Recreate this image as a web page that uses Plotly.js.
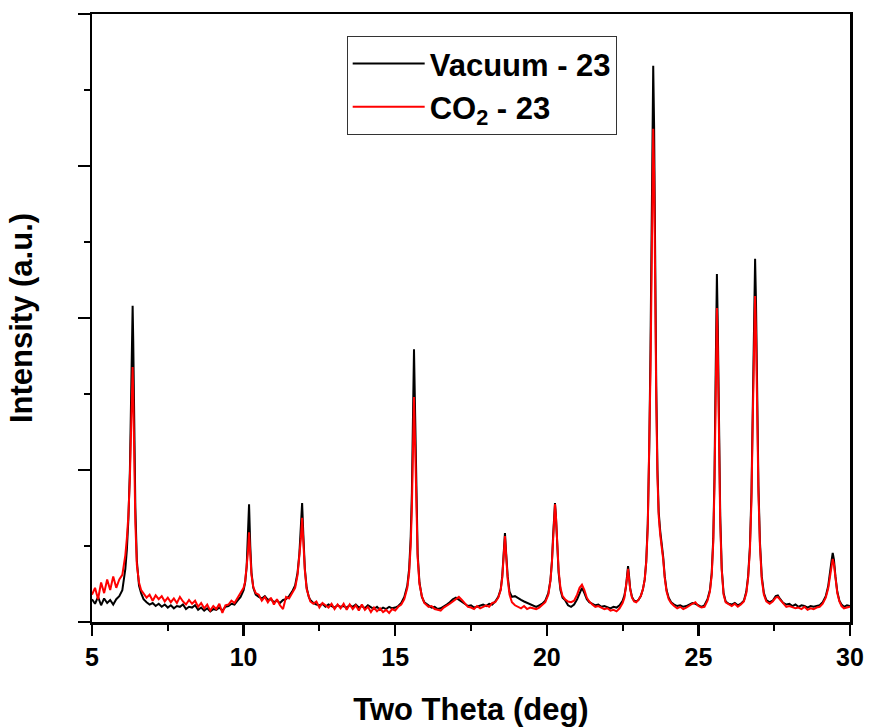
<!DOCTYPE html>
<html>
<head>
<meta charset="utf-8">
<script src="https://cdn.plot.ly/plotly-3.0.1.min.js"></script>
<style>
  html, body { margin: 0; padding: 0; background: #ffffff; }
  #chart { width: 871px; height: 727px; }
</style>
</head>
<body>
<div id="chart"></div>
<script>
// Two Theta (deg)
const twoTheta = [
  5.0, 5.1, 5.2, 5.3, 5.4, 5.5, 5.6, 5.7, 5.8, 5.9,
  6.0, 6.1, 6.15, 6.2, 6.25, 6.29, 6.32, 6.34, 6.36, 6.39, 6.43, 6.48, 6.55, 6.62,
  6.7, 6.8, 6.9, 7.0, 7.1, 7.2, 7.3, 7.4, 7.5, 7.6, 7.7, 7.8, 7.9, 8.0, 8.1, 8.2, 8.3, 8.4, 8.5, 8.6, 8.7, 8.8, 8.9, 9.0, 9.1, 9.2, 9.3, 9.4, 9.5, 9.6, 9.7, 9.8, 9.9,
  10.0, 10.05, 10.1, 10.14, 10.18, 10.22, 10.26, 10.32, 10.4,
  10.5, 10.6, 10.7, 10.8, 10.9, 11.0, 11.1, 11.2, 11.3, 11.4, 11.5, 11.6,
  11.7, 11.78, 11.84, 11.89, 11.93, 11.97, 12.02, 12.08, 12.15,
  12.2, 12.3, 12.4, 12.5, 12.6, 12.7, 12.8, 12.9, 13.0, 13.1, 13.2, 13.3, 13.4, 13.5, 13.6, 13.7, 13.8, 13.9, 14.0, 14.1, 14.2, 14.3, 14.4, 14.5, 14.6, 14.7, 14.8, 14.9, 15.0, 15.1, 15.2, 15.3,
  15.4, 15.46, 15.51, 15.55, 15.59, 15.62, 15.65, 15.69, 15.74, 15.8, 15.88, 15.96,
  16.1, 16.2, 16.3, 16.4, 16.5, 16.6, 16.7, 16.8, 16.9, 17.0, 17.1, 17.2, 17.3, 17.4, 17.5, 17.6, 17.7, 17.8, 17.9, 18.0, 18.1, 18.2, 18.3, 18.4,
  18.48, 18.53, 18.57, 18.62, 18.66, 18.71, 18.77, 18.85,
  18.95, 19.05, 19.15, 19.25, 19.35, 19.45, 19.55, 19.65, 19.75, 19.85, 19.95, 20.05,
  20.12, 20.17, 20.21, 20.24, 20.27, 20.3, 20.34, 20.39, 20.45, 20.52,
  20.6, 20.7, 20.8, 20.9, 21.0, 21.08, 21.16, 21.24, 21.32, 21.4, 21.5, 21.6, 21.7, 21.8, 21.9, 22.0, 22.1, 22.2, 22.3, 22.4, 22.5, 22.56,
  22.61, 22.65, 22.68, 22.71, 22.75, 22.81, 22.88, 22.95, 23.02, 23.1, 23.17, 23.23, 23.28, 23.33, 23.38, 23.42, 23.46, 23.49, 23.51, 23.54, 23.57, 23.61, 23.65, 23.69, 23.74, 23.79, 23.84, 23.89, 23.95, 24.02, 24.1,
  24.2, 24.3, 24.4, 24.5, 24.6, 24.7, 24.8, 24.9, 25.0, 25.1, 25.2, 25.3,
  25.38, 25.44, 25.49, 25.53, 25.57, 25.61, 25.64, 25.68, 25.72, 25.77, 25.83, 25.9,
  26.0, 26.1, 26.2, 26.3, 26.4, 26.5, 26.58,
  26.64, 26.7, 26.75, 26.79, 26.83, 26.87, 26.9, 26.94, 26.98, 27.03, 27.09, 27.16, 27.24,
  27.35, 27.45, 27.55, 27.62, 27.7, 27.8, 27.9, 28.0, 28.1, 28.2, 28.3, 28.4, 28.5, 28.6, 28.7, 28.8, 28.9, 29.0, 29.1, 29.2, 29.28,
  29.34, 29.39, 29.43, 29.47, 29.52, 29.58, 29.65, 29.72, 29.8, 29.9, 30.0
];

// Vacuum - 23 intensity (a.u.)
const vacuum23 = [
  300, 240, 330, 220, 310, 250, 290, 230, 300, 340,
  420, 700, 950, 1350, 2000, 2900, 3800, 4160, 3700, 2600, 1500, 800, 480, 380,
  300, 260, 230, 250, 210, 240, 200, 230, 190, 220, 180, 210, 200, 230, 170, 200, 190, 220, 160, 190, 150, 180, 140, 170, 160, 190, 150, 200, 210, 240, 230, 280, 330,
  420, 520, 720, 1050, 1550, 1000, 650, 450, 360,
  330, 310, 340, 290, 300, 260, 280, 250, 290, 300, 340, 400,
  480, 650, 900, 1250, 1565, 1150, 700, 450, 330,
  290, 250, 230, 220, 240, 200, 230, 210, 190, 220, 200, 210, 190, 220, 200, 230, 190, 210, 180, 220, 190, 170, 200, 160, 190, 170, 200, 180, 190, 210, 250, 330,
  480, 700, 1100, 1700, 2800, 3590, 2900, 1700, 900, 520, 330, 260,
  220, 190, 200, 170, 180, 200, 230, 260, 300, 320, 290, 260, 230, 210, 220, 190, 200, 220, 230, 210, 240, 230, 270, 330,
  430, 600, 850, 1170, 900, 600, 400, 330,
  340, 310, 290, 270, 250, 230, 210, 200, 220, 240, 280, 380,
  550, 800, 1150, 1400, 1565, 1400, 1050, 650, 420, 320,
  290, 220, 200, 230, 300, 380, 450, 380, 300, 260, 240, 220, 230, 200, 210, 190, 180, 200, 190, 220, 280, 350,
  460, 620, 735, 620, 440, 330, 280, 270, 290, 340, 430, 560, 800, 1300, 2300, 3600, 5200, 6700, 7320, 6500, 4800, 3100, 2000, 1450, 1200, 1050, 850, 600, 420, 320, 260,
  230, 210, 220, 200, 210, 230, 250, 240, 220, 200, 220, 300,
  420, 650, 1100, 1900, 3300, 4580, 3900, 2500, 1400, 700, 380, 270,
  240, 230, 250, 220, 240, 280, 400,
  600, 1000, 1700, 2800, 4100, 4780, 4200, 2900, 1800, 1050, 600, 380, 290,
  260, 280, 340, 350, 300, 250, 230, 240, 210, 230, 200, 220, 210, 190, 210, 200, 210, 220, 260, 340, 470,
  620, 800, 910, 820, 600, 400, 280, 230, 200, 220, 210
];

// CO2 - 23 intensity (a.u.)
const co2_23 = [
  360, 450, 300, 520, 380, 560, 420, 600, 450, 560,
  620, 880, 1100, 1400, 1900, 2550, 3150, 3355, 3000, 2200, 1300, 750, 520, 420,
  380, 320, 360, 280, 350, 300, 340, 270, 320, 260, 310, 250, 330, 270, 230, 290, 240, 280, 200, 250, 180, 230, 150, 210, 170, 240, 120, 220, 230, 280, 250, 320, 380,
  450, 530, 700, 900, 1180, 880, 620, 460, 380,
  360, 280, 330, 260, 320, 230, 300, 220, 170, 330, 310, 380,
  450, 620, 850, 1100, 1370, 1050, 680, 430, 320,
  270, 240, 270, 190, 250, 220, 190, 240, 170, 230, 180, 240, 160, 230, 170, 220, 150, 230, 160, 200, 130, 190, 140, 180, 130, 160, 120, 170, 150, 200, 230, 300,
  450, 650, 1000, 1500, 2350, 2960, 2450, 1500, 850, 500, 340, 250,
  200, 210, 170, 160, 150, 190, 210, 240, 270, 300, 330, 290, 240, 200, 190, 170, 210, 180, 200, 220, 200, 250, 260, 320,
  420, 580, 820, 1130, 870, 560, 360, 260,
  220, 200, 180, 210, 170, 190, 180, 170, 190, 220, 260, 360,
  540, 790, 1130, 1380, 1550, 1400, 1060, 680, 450, 340,
  300, 270, 260, 280, 360, 450, 490, 420, 320, 270, 230, 200, 210, 190, 170, 180, 150, 160, 140, 180, 250, 320,
  440, 590, 700, 600, 430, 320, 270, 260, 290, 340, 430, 560, 790, 1250, 2150, 3300, 4700, 6000, 6490, 5900, 4400, 2900, 1900, 1400, 1150, 1000, 820, 580, 400, 300, 250,
  210, 180, 200, 170, 190, 220, 240, 260, 210, 190, 200, 280,
  400, 620, 1050, 1800, 3000, 4130, 3600, 2300, 1300, 680, 360, 260,
  230, 210, 240, 200, 230, 270, 380,
  580, 950, 1600, 2600, 3700, 4290, 3800, 2700, 1700, 1000, 560, 360, 270,
  240, 270, 320, 330, 290, 240, 200, 210, 190, 180, 190, 170, 200, 160, 180, 170, 190, 200, 240, 320, 440,
  580, 740, 830, 760, 560, 380, 270, 210, 180, 190, 200
];

const seriesNames = ['Vacuum - 23', 'CO<sub>2</sub> - 23'];
const xTickVals = [5, 10, 15, 20, 25, 30];

const FONT = 'Liberation Sans, Arial, Helvetica, sans-serif';

const traces = [
  {
    x: twoTheta, y: vacuum23, name: seriesNames[0],
    type: 'scatter', mode: 'lines',
    line: { color: '#000000', width: 2 }
  },
  {
    x: twoTheta, y: co2_23, name: seriesNames[1],
    type: 'scatter', mode: 'lines',
    line: { color: '#ff0000', width: 2 }
  }
];

const layout = {
  width: 871, height: 727,
  margin: { l: 92, r: 21, t: 14, b: 105 },
  paper_bgcolor: '#ffffff',
  plot_bgcolor: '#ffffff',
  showlegend: true,
  legend: {
    x: 0.336, y: 0.964, xanchor: 'left', yanchor: 'top',
    bgcolor: '#ffffff', bordercolor: '#333333', borderwidth: 1,
    font: { family: FONT, size: 31, color: '#000000', weight: 'bold' },
    itemwidth: 72,
    tracegroupgap: 0
  },
  xaxis: {
    range: [5, 30], autorange: false,
    tickmode: 'array', tickvals: xTickVals, ticktext: xTickVals.map(String),
    ticks: 'outside', ticklen: 11, tickwidth: 2.5, tickcolor: '#000000',
    minor: { dtick: 2.5, tick0: 5, ticks: 'outside', ticklen: 6, tickwidth: 2, tickcolor: '#000000', showgrid: false },
    showline: true, linewidth: 2.5, linecolor: '#000000', mirror: true,
    showgrid: false, zeroline: false,
    tickfont: { family: FONT, size: 25, color: '#000000', weight: 'bold' },
    title: { text: 'Two Theta (deg)', standoff: 38, font: { family: FONT, size: 31, color: '#000000', weight: 'bold' } }
  },
  yaxis: {
    range: [0, 8000], autorange: false,
    tick0: 0, dtick: 2000,
    ticks: 'outside', ticklen: 12, tickwidth: 2.5, tickcolor: '#000000',
    minor: { dtick: 1000, tick0: 0, ticks: 'outside', ticklen: 6, tickwidth: 2, tickcolor: '#000000', showgrid: false },
    showticklabels: false,
    showline: true, linewidth: 2.5, linecolor: '#000000', mirror: true,
    showgrid: false, zeroline: false,
    title: { text: 'Intensity (a.u.)', standoff: 36, font: { family: FONT, size: 31, color: '#000000', weight: 'bold' } }
  },
  xaxis2: {
    overlaying: 'x', side: 'top', anchor: 'y',
    range: [5, 30], autorange: false,
    tickmode: 'array', tickvals: xTickVals,
    ticks: 'inside', ticklen: 12, tickwidth: 2.5, tickcolor: '#000000',
    minor: { dtick: 2.5, tick0: 5, ticks: 'inside', ticklen: 6, tickwidth: 2, tickcolor: '#000000', showgrid: false },
    showticklabels: false, showline: false, showgrid: false, zeroline: false
  },
  yaxis2: {
    overlaying: 'y', side: 'right', anchor: 'x',
    range: [0, 8000], autorange: false,
    tick0: 0, dtick: 2000,
    ticks: 'inside', ticklen: 12, tickwidth: 2.5, tickcolor: '#000000',
    minor: { dtick: 1000, tick0: 0, ticks: 'inside', ticklen: 6, tickwidth: 2, tickcolor: '#000000', showgrid: false },
    showticklabels: false, showline: false, showgrid: false, zeroline: false
  }
};

Plotly.newPlot('chart', traces, layout, { displayModeBar: false, staticPlot: true });
</script>
</body>
</html>
